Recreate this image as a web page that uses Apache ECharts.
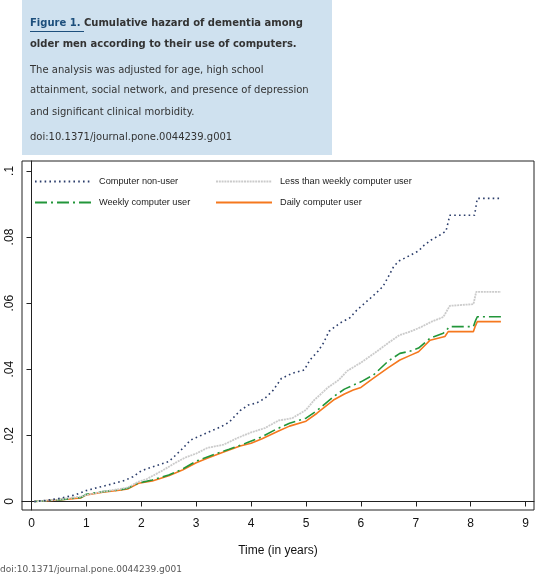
<!DOCTYPE html>
<html><head><meta charset="utf-8">
<script src="https://cdn.jsdelivr.net/npm/echarts@6/dist/echarts.min.js"></script>
<style>html,body{margin:0;padding:0;background:#fff}#c{width:536px;height:576px}</style>
</head><body><div id="c"></div>
<script>
// ---- data ----
const seriesNames = ['Computer non-user', 'Less than weekly computer user', 'Weekly computer user', 'Daily computer user'];
const xTickValues = [0,1,2,3,4,5,6,7,8,9];
const yTickValues = [0, 0.02, 0.04, 0.06, 0.08, 0.1];
const yTickLabels = ['0', '.02', '.04', '.06', '.08', '.1'];

const nonUserTime = [0.05,0.3,0.5,0.8,1.0,1.2,1.4,1.7,1.85,2.0,2.3,2.5,2.6,2.75,2.9,3.05,3.25,3.45,3.6,3.8,3.95,4.1,4.25,4.4,4.55,4.75,4.97,5.07,5.22,5.32,5.42,5.62,5.8,5.92,6.05,6.22,6.4,6.5,6.6,6.7,6.9,7.05,7.15,7.28,7.44,7.55,7.62,8.07,8.12,8.55];
const nonUserHazard = [0,0.0004,0.0009,0.002,0.0033,0.0042,0.005,0.0064,0.0075,0.0093,0.011,0.0121,0.0136,0.016,0.0186,0.0197,0.0212,0.0226,0.024,0.0275,0.0292,0.0298,0.0312,0.0336,0.0372,0.0388,0.0398,0.0428,0.0455,0.048,0.0515,0.054,0.0556,0.0578,0.0597,0.0622,0.065,0.068,0.0712,0.0728,0.0745,0.0758,0.0775,0.0791,0.0806,0.0818,0.0866,0.0866,0.0917,0.0917];

const lessWeeklyTime = [0.05,0.5,0.9,1.0,1.3,1.5,1.75,1.95,2.1,2.4,2.6,2.8,3.0,3.2,3.5,3.75,4.0,4.25,4.5,4.75,5.0,5.15,5.25,5.4,5.6,5.75,6.0,6.3,6.5,6.7,6.9,7.1,7.3,7.5,7.62,8.05,8.1,8.55];
const lessWeeklyHazard = [0,0.0006,0.0015,0.002,0.003,0.0035,0.0042,0.006,0.0068,0.0095,0.0115,0.0133,0.0145,0.0162,0.0172,0.0192,0.0209,0.0222,0.0245,0.0252,0.0277,0.0307,0.0322,0.0345,0.0368,0.0395,0.042,0.0455,0.048,0.0503,0.0514,0.0528,0.0545,0.0558,0.0592,0.0597,0.0634,0.0634];

const weeklyTime = [0.05,0.5,0.9,1.0,1.3,1.6,1.75,1.95,2.2,2.5,2.75,3.0,3.3,3.6,3.9,4.2,4.45,4.7,5.0,5.2,5.5,5.7,5.86,6.0,6.23,6.5,6.71,6.9,7.05,7.26,7.5,7.62,8.05,8.08,8.12,8.55];
const weeklyHazard = [0,0.0005,0.0012,0.0022,0.003,0.0035,0.004,0.0056,0.0065,0.008,0.0098,0.0122,0.0141,0.0158,0.0176,0.0196,0.0218,0.0237,0.0252,0.0275,0.0317,0.034,0.0352,0.0362,0.0383,0.0425,0.0448,0.0455,0.0464,0.0494,0.0509,0.0529,0.0529,0.0544,0.0559,0.0559];

const dailyTime = [0.05,0.5,0.9,1.0,1.3,1.6,1.75,1.95,2.2,2.5,2.75,3.0,3.2,3.5,3.8,4.0,4.2,4.5,4.7,5.0,5.2,5.5,5.7,5.86,6.0,6.23,6.5,6.71,6.9,7.05,7.26,7.53,7.59,8.05,8.08,8.12,8.55];
const dailyHazard = [0,0.0005,0.0011,0.002,0.0028,0.0034,0.0038,0.0055,0.0062,0.0078,0.0095,0.0117,0.0131,0.015,0.0168,0.0176,0.019,0.0213,0.0228,0.0243,0.0267,0.0307,0.0325,0.0337,0.0345,0.0373,0.0405,0.0428,0.0442,0.0453,0.0488,0.0499,0.0514,0.0514,0.0529,0.0544,0.0544];

// ---- build ----
const zip = (a, b) => a.map((t, i) => [t, b[i]]);
const legendFont = { fontSize: 9.2, fontFamily: "'Liberation Sans', Arial, sans-serif", color: '#222', padding: [0, 0, 0, 3] };
const styles = [
  { color: '#2b3d6b', width: 1.6, type: [1.6, 3.2] },
  { color: '#cbcbcb', width: 1.8, type: [2, 0.8] },
  { color: '#22963a', width: 1.6, type: [12, 4, 2, 4] },
  { color: '#f5781e', width: 1.6, type: 'solid' }
];
const dataSets = [zip(nonUserTime, nonUserHazard), zip(lessWeeklyTime, lessWeeklyHazard), zip(weeklyTime, weeklyHazard), zip(dailyTime, dailyHazard)];
const legendPos = [[34, 177], [215, 177], [34, 198], [215, 198]];
const boxFont = "10px 'DejaVu Sans', Verdana, sans-serif";
const boxBold = "bold 10px 'DejaVu Sans', Verdana, sans-serif";

const chart = echarts.init(document.getElementById('c'), null, { renderer: 'canvas' });
chart.setOption({
  animation: false,
  backgroundColor: '#fff',
  grid: { left: 22, top: 161, width: 512, height: 349, show: true, borderColor: '#222', borderWidth: 1, backgroundColor: 'transparent' },
  legend: seriesNames.map((n, i) => ({
    data: [n], left: legendPos[i][0], top: legendPos[i][1], itemWidth: 56, itemHeight: 10, itemGap: 8,
    textStyle: legendFont, padding: 0, selectedMode: false, itemStyle: { opacity: 0 }
  })),
  xAxis: {
    type: 'value', min: -0.173, max: 9.153,
    name: 'Time (in years)', nameLocation: 'middle', nameGap: 35,
    nameTextStyle: { fontSize: 12, fontFamily: "'Liberation Sans', Arial, sans-serif", color: '#111' },
    axisLine: { show: true, lineStyle: { color: '#222', width: 1 } },
    axisTick: { show: true, length: 5, customValues: xTickValues, lineStyle: { color: '#222' } },
    axisLabel: { customValues: xTickValues, fontSize: 12, margin: 8, color: '#111', fontFamily: "'Liberation Sans', Arial, sans-serif" },
    splitLine: { show: false }
  },
  yAxis: {
    type: 'value', min: -0.00257, max: 0.1030,
    axisLine: { show: true, lineStyle: { color: '#222', width: 1 } },
    axisTick: { show: true, length: 5, customValues: yTickValues, lineStyle: { color: '#222' } },
    axisLabel: {
      customValues: yTickValues, rotate: 90, fontSize: 12, margin: 6, color: '#111',
      fontFamily: "'Liberation Sans', Arial, sans-serif",
      formatter: v => { const i = yTickValues.findIndex(x => Math.abs(x - v) < 1e-9); return i >= 0 ? yTickLabels[i] : ''; }
    },
    splitLine: { show: false }
  },
  series: seriesNames.map((n, i) => ({
    name: n, type: 'line', data: dataSets[i], symbol: 'none', showSymbol: false,
    lineStyle: styles[i], itemStyle: { color: styles[i].color }, z: 10 - i
  })),
  graphic: [
    { type: 'rect', left: 22, top: 0, shape: { width: 310, height: 155 }, style: { fill: '#cfe1ef' }, z: 0 },
    { type: 'text', left: 30, top: 18.5, style: {
        text: '{a|Figure 1.} Cumulative hazard of dementia among',
        font: boxBold, fill: '#333',
        rich: { a: { fill: '#1d4f7c', font: boxBold } } } },
    { type: 'line', shape: { x1: 30, y1: 31.5, x2: 84, y2: 31.5 }, style: { stroke: '#1d4f7c', lineWidth: 1 } },
    { type: 'text', left: 30, top: 39, style: { text: 'older men according to their use of computers.', font: boxBold, fill: '#333' } },
    { type: 'text', left: 30, top: 65.5, style: { text: 'The analysis was adjusted for age, high school', font: boxFont, fill: '#333' } },
    { type: 'text', left: 30, top: 85.5, style: { text: 'attainment, social network, and presence of depression', font: boxFont, fill: '#333' } },
    { type: 'text', left: 30, top: 107, style: { text: 'and significant clinical morbidity.', font: boxFont, fill: '#333' } },
    { type: 'text', left: 30, top: 132, style: { text: 'doi:10.1371/journal.pone.0044239.g001', font: boxFont, fill: '#333' } },
    { type: 'text', left: 0, top: 565, style: { text: 'doi:10.1371/journal.pone.0044239.g001', font: "9px 'DejaVu Sans', Verdana, sans-serif", fill: '#555' } }
  ]
});
</script></body></html>
